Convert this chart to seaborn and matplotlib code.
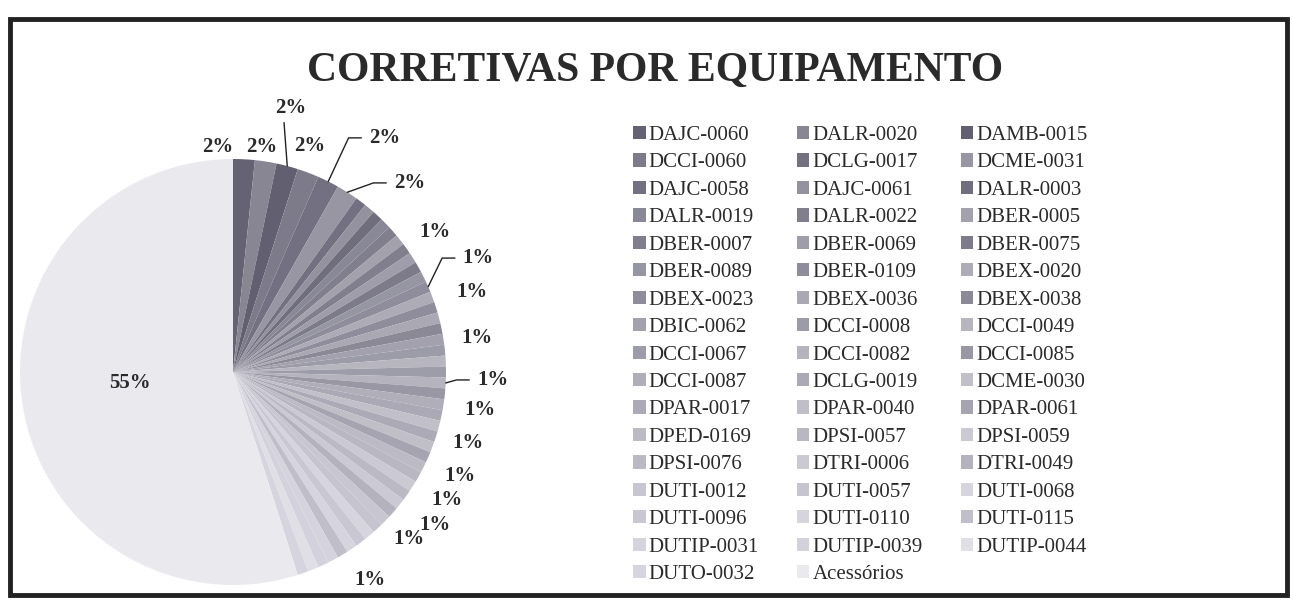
import numpy as np
import matplotlib
matplotlib.use("Agg")
import matplotlib.pyplot as plt
from matplotlib.patches import Patch, Rectangle
import seaborn as sns

# Equipment codes, in the order the slices are drawn (clockwise from 12 o'clock)
equipamentos = [
    "DAJC-0060", "DALR-0020", "DAMB-0015", "DCCI-0060", "DCLG-0017", "DCME-0031",
    "DAJC-0058", "DAJC-0061", "DALR-0003", "DALR-0019", "DALR-0022", "DBER-0005",
    "DBER-0007", "DBER-0069", "DBER-0075", "DBER-0089", "DBER-0109", "DBEX-0020",
    "DBEX-0023", "DBEX-0036", "DBEX-0038", "DBIC-0062", "DCCI-0008", "DCCI-0049",
    "DCCI-0067", "DCCI-0082", "DCCI-0085", "DCCI-0087", "DCLG-0019", "DCME-0030",
    "DPAR-0017", "DPAR-0040", "DPAR-0061", "DPED-0169", "DPSI-0057", "DPSI-0059",
    "DPSI-0076", "DTRI-0006", "DTRI-0049", "DUTI-0012", "DUTI-0057", "DUTI-0068",
    "DUTI-0096", "DUTI-0110", "DUTI-0115", "DUTIP-0031", "DUTIP-0039", "DUTIP-0044",
    "DUTO-0032", "Acessórios",
]

# Number of corrective work orders per equipment
corretivas = [
    2, 2, 2, 2, 2, 2,
    1, 1, 1, 1, 1, 1, 1, 1, 1, 1, 1, 1, 1, 1, 1,
    1, 1, 1, 1, 1, 1, 1, 1, 1, 1, 1, 1, 1, 1, 1,
    1, 1, 1, 1, 1, 1, 1, 1, 1, 1, 1, 1, 1,
    67,
]

titulo = "CORRETIVAS POR EQUIPAMENTO"

# Slices that carry a percentage label: index -> (radial distance, angular nudge in deg, leader line)
rotulos = {
    0: (1.06, 6.8, None),
    1: (1.065, 1.5, None),
    2: (1.27, 2.5, "up"),
    3: (1.12, 1.8, None),
    4: (1.31, -6.4, "right"),
    5: (1.215, -10.6, "right"),
    12: (1.153, -0.7, None),
    16: (1.27, 1.3, "right"),
    18: (1.183, 0.8, None),
    21: (1.157, -0.9, None),
    25: (1.22, 1.2, "right"),
    27: (1.173, 0.0, None),
    30: (1.152, 1.0, None),
    33: (1.17, 2.0, None),
    34: (1.17, -1.5, None),
    37: (1.19, 1.2, None),
    38: (1.14, -2.2, None),
    43: (1.169, -0.5, None),
    49: (0.485, -3.0, None),
}

sns.set_theme(style="white")
plt.rcParams["font.family"] = ["Liberation Serif", "DejaVu Serif"]

W, H = 1293, 609
fig = plt.figure(figsize=(W / 100, H / 100), dpi=100)
fig.patch.set_facecolor("white")

# grey-lavender tones: darker first, lighter towards the end, alternating stripes
tendencia = sns.blend_palette(["#646273", "#d6d5df"], len(corretivas) - 1)
deslocamento = [0.0, 0.22, -0.06, 0.12, 0.04, 0.28]
cores = []
for i, c in enumerate(tendencia):
    d = deslocamento[i % len(deslocamento)]
    c = np.array(c)
    if d >= 0:
        c = c + (1 - c) * d
    else:
        c = c * (1 + d)
    cores.append(tuple(np.clip(c, 0, 1)))
cores.append("#eaeaee")

# Pie axes: centre at (233, 372) px, radius 213 px, limits +-1.3
cx, cy, R = 233, 372, 213
lim = 1.3
side = 2 * lim * R
ax = fig.add_axes([(cx - side / 2) / W, (H - cy - side / 2) / H, side / W, side / H])
wedges, _ = ax.pie(corretivas, colors=cores, startangle=90, counterclock=False,
                   radius=1.0, wedgeprops=dict(linewidth=0))
ax.set_xlim(-lim, lim)
ax.set_ylim(-lim, lim)
ax.set_aspect("equal")
ax.axis("off")

total = sum(corretivas)
for idx, (r, nudge, leader) in rotulos.items():
    w = wedges[idx]
    mid = np.deg2rad((w.theta1 + w.theta2) / 2)
    ang = mid + np.deg2rad(nudge)
    lx, ly = r * np.cos(ang), r * np.sin(ang)
    pct = f"{round(100 * corretivas[idx] / total):.0f}%"
    ax.text(lx, ly, pct, ha="center", va="center", fontsize=15,
            fontweight="bold", color="#2a2a2a", clip_on=False)
    if leader:
        ex, ey = np.cos(mid), np.sin(mid)
        if leader == "up":
            ax.plot([ex, lx - 0.03], [ey, ly - 0.07], color="#222", lw=1.0, clip_on=False)
        else:
            ax.plot([ex, lx - 0.17, lx - 0.11], [ey, ly, ly], color="#222", lw=1.0,
                    clip_on=False)

# Legend laid out row by row in three columns
handles = [Patch(facecolor=c, edgecolor="none") for c in cores]
ncol = 3
ordem = [i for col in range(ncol) for i in range(col, len(equipamentos), ncol)]
fig.legend([handles[i] for i in ordem], [equipamentos[i] for i in ordem],
           ncol=ncol, loc="upper left", bbox_to_anchor=(633 / W, 1 - 126 / H),
           frameon=False, fontsize=15, handlelength=0.6, handleheight=0.6,
           handletextpad=0.15, columnspacing=1.82, labelspacing=0.405,
           borderpad=0, borderaxespad=0, labelcolor="#2a2a2a")

fig.text(655 / W, 1 - 71 / H, titulo, ha="center", va="center", fontsize=30,
         fontweight="bold", color="#2a2a2a")

fig.patches.append(Rectangle((9.5 / W, 1 - 595 / H), (1287 - 9.5) / W, (595 - 19) / H,
                             transform=fig.transFigure, fill=False, lw=3.5,
                             edgecolor="#222222"))

fig.savefig("out.png", dpi=100, facecolor="white")
